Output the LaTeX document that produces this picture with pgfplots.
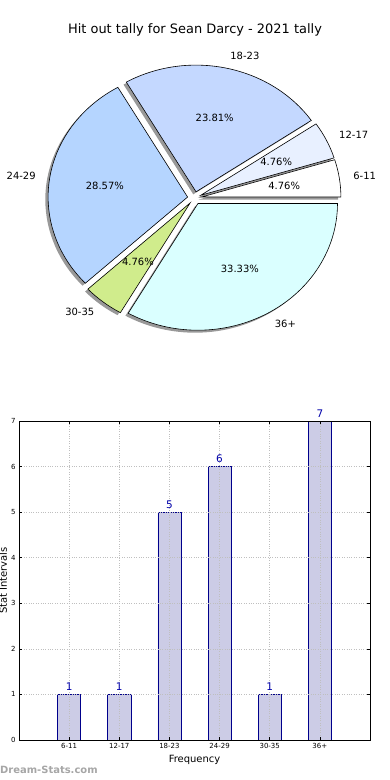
\documentclass[border=0pt]{standalone}
\usepackage{pgfplots}
\pgfplotsset{compat=1.18}
\usepackage{pgfplotstable}
\usepackage{fontspec}
\setmainfont{DejaVu Sans}

\pgfplotstableread{
name value
6-11 1
12-17 1
18-23 5
24-29 6
30-35 1
36+ 7
}\piedata

\definecolor{pieclr0}{RGB}{255,255,255}
\definecolor{pieclr1}{RGB}{232,240,255}
\definecolor{pieclr2}{RGB}{196,216,255}
\definecolor{pieclr3}{RGB}{181,213,255}
\definecolor{pieclr4}{RGB}{208,236,140}
\definecolor{pieclr5}{RGB}{218,255,255}
\definecolor{barfill}{RGB}{204,204,230}
\definecolor{baredge}{RGB}{0,0,139}
\definecolor{barlabel}{RGB}{0,0,170}

\begin{document}
\begin{tikzpicture}
\useasboundingbox (0bp,0bp) rectangle (390bp,780bp);
\node[font=\fontsize{13}{15}\selectfont] at (195bp,750bp) {Hit out tally for Sean Darcy - 2021 tally};

\pgfplotstablegetrowsof{\piedata}
\pgfmathtruncatemacro\lastrow{\pgfplotsretval-1}
\def\total{0}
\pgfplotsforeachungrouped \i in {0,...,\lastrow}{%
  \pgfplotstablegetelem{\i}{value}\of\piedata
  \pgfmathsetmacro\total{\total+\pgfplotsretval}%
}

\begin{axis}[at={(194.5bp,582bp)}, anchor=origin, scale only axis,
  width=362.7bp, height=329.4bp,
  xmin=-1.3, xmax=1.3, ymin=-1.3, ymax=1.3, hide axis, clip=false]
% shadows
\def\cum{0}
\pgfplotsforeachungrouped \i in {0,...,\lastrow}{%
  \pgfplotstablegetelem{\i}{value}\of\piedata \let\v\pgfplotsretval
  \pgfmathsetmacro\a{\cum/\total*360}%
  \pgfmathsetmacro\b{(\cum+\v)/\total*360}%
  \pgfmathsetmacro\m{(\a+\b)/2}%
  \pgfmathsetmacro\ex{0.05*cos(\m)}%
  \pgfmathsetmacro\ey{0.05*sin(\m)}%
  \edef\temp{%
    \noexpand\fill[black, fill opacity=0.4] ([shift={(-2.8bp,-2.5bp)}]axis cs:\ex,\ey) -- ++(\a:139.5bp and 126.7bp) arc[start angle=\a, end angle=\b, x radius=139.5bp, y radius=126.7bp] -- cycle;
  }\temp
  \pgfmathsetmacro\cum{\cum+\v}%
}
% wedges and labels
\def\cum{0}
\pgfplotsforeachungrouped \i in {0,...,\lastrow}{%
  \pgfplotstablegetelem{\i}{value}\of\piedata \let\v\pgfplotsretval
  \pgfplotstablegetelem{\i}{name}\of\piedata \let\n\pgfplotsretval
  \pgfmathsetmacro\a{\cum/\total*360}%
  \pgfmathsetmacro\b{(\cum+\v)/\total*360}%
  \pgfmathsetmacro\m{(\a+\b)/2}%
  \pgfmathsetmacro\ex{0.05*cos(\m)}%
  \pgfmathsetmacro\ey{0.05*sin(\m)}%
  \pgfmathsetmacro\lx{\ex+1.1*cos(\m)}%
  \pgfmathsetmacro\ly{\ey+1.1*sin(\m)}%
  \pgfmathsetmacro\px{\ex+0.6*cos(\m)}%
  \pgfmathsetmacro\py{\ey+0.6*sin(\m)}%
  \pgfmathsetmacro\pct{\v/\total*100}%
  \pgfmathsetmacro\cm{cos(\m)}%
  \ifdim\cm pt>0pt \def\anc{west}\else\def\anc{east}\fi
  \edef\temp{%
    \noexpand\filldraw[fill=pieclr\i, draw=black, line width=0.6bp] (axis cs:\ex,\ey) -- ++(\a:139.5bp and 126.7bp) arc[start angle=\a, end angle=\b, x radius=139.5bp, y radius=126.7bp] -- cycle;
    \noexpand\node[anchor=\anc, inner sep=0pt, font=\noexpand\fontsize{10}{12}\noexpand\selectfont] at (axis cs:\lx,\ly) {\n};
    \noexpand\node[inner sep=0pt, font=\noexpand\fontsize{10}{12}\noexpand\selectfont] at (axis cs:\px,\py) {\noexpand\pgfmathprintnumber[fixed,fixed zerofill,precision=2,assume math mode=true]{\pct}\noexpand\%};
  }\temp
  \pgfmathsetmacro\cum{\cum+\v}%
}
\end{axis}

\begin{axis}[at={(19bp,40bp)}, anchor=south west, scale only axis,
  width=351bp, height=319bp,
  xmin=-1, xmax=6, ymin=0, ymax=7,
  xtick={0,...,5}, xticklabels={6-11,12-17,18-23,24-29,30-35,36+},
  ytick={0,...,7},
  grid=major, grid style={dotted, gray!50, line width=0.6bp},
  axis on top, tick align=inside, major tick length=3bp,
  tick style={black, line width=0.5bp}, axis line style={line width=0.8bp},
  ticklabel style={font=\fontsize{7}{8}\selectfont},
  /pgf/number format/assume math mode=true,
  xlabel={Frequency}, ylabel={Stat Intervals},
  label style={font=\fontsize{10}{12}\selectfont},
  xlabel style={at={(axis description cs:0.5,-0.0627)}, anchor=center},
  ylabel style={at={(axis description cs:-0.045,0.5)}, anchor=center},
  clip=false]
\addplot[ybar, bar width=0.46, fill=barfill, draw=baredge, line width=0.6bp,
  nodes near coords,
  nodes near coords style={font=\fontsize{10.5}{12}\selectfont, text=barlabel}]
  table[x expr=\coordindex, y=value] {\piedata};
\end{axis}

\node[anchor=west, inner sep=0pt, font=\bfseries\fontsize{10}{12}\selectfont, text=gray!70] at (0bp,10bp) {Dream-Stats.com};
\end{tikzpicture}
\end{document}
